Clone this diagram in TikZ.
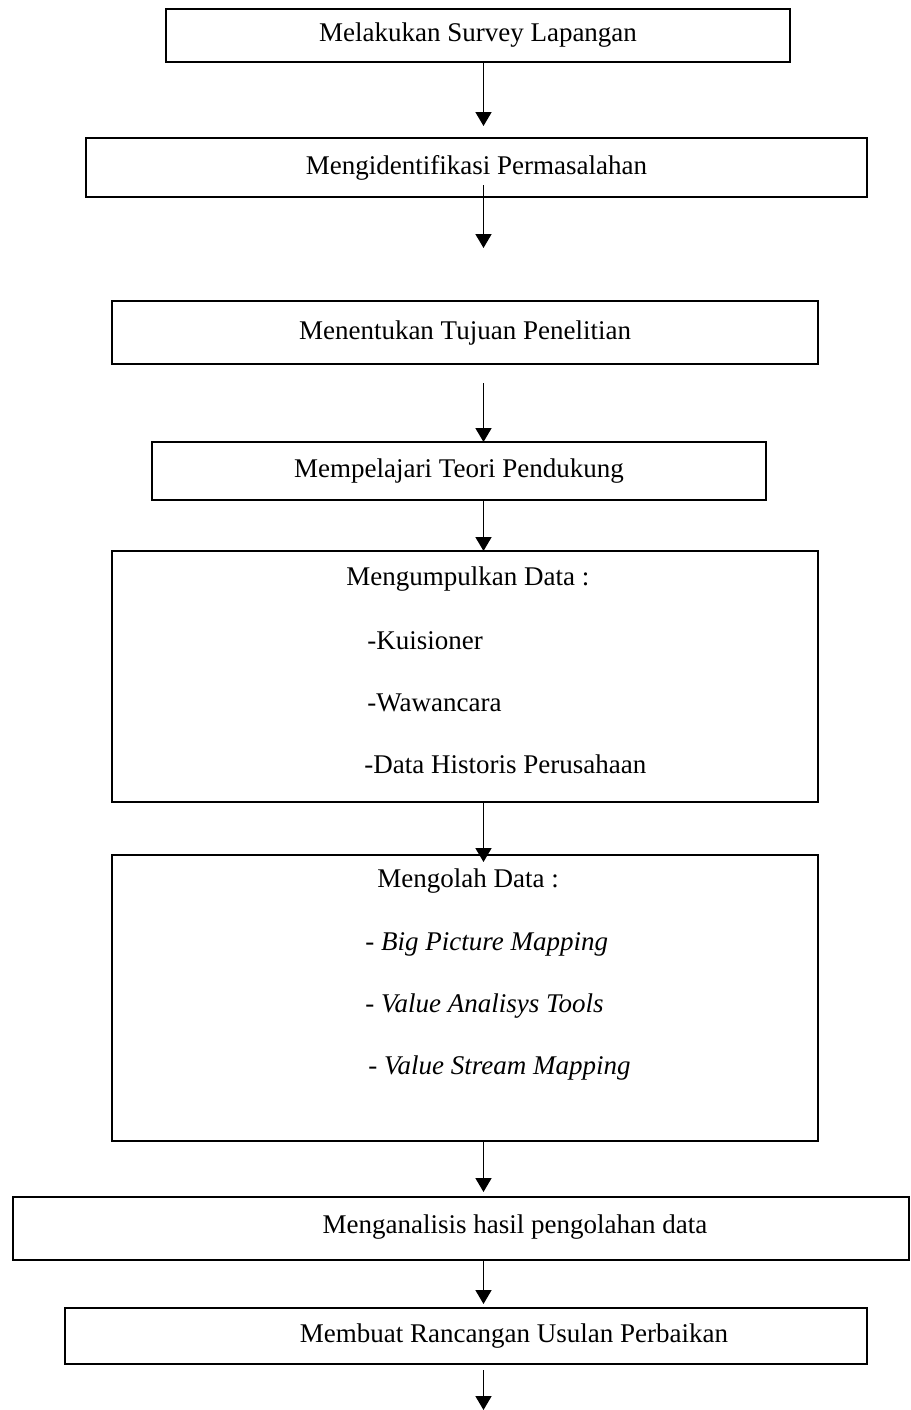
\documentclass[tikz,border=0pt]{standalone}
\usepackage{fontspec}
\setmainfont{Liberation Serif}
\usetikzlibrary{arrows.meta,calc}

\tikzset{
  kotak/.style={draw, line width=0.65pt, inner sep=0pt, outer sep=0pt, font=\fontsize{13.5}{16}\selectfont},
  teks/.style={inner sep=0pt, font=\fontsize{13.5}{16}\selectfont},
  panah/.style={-{Triangle[length=7pt,width=8pt]}, line width=0.85pt},
}

\begin{document}
\begin{tikzpicture}[x=0.5pt,y=-0.5pt]
  \useasboundingbox (0,0) rectangle (911,1410);
  % Spalte der Pfeile
  \coordinate (ax) at (483.5,0);

  % Kotak-kotak
  \node[kotak, minimum width=312pt, minimum height=26.5pt] (survey) at (478,35.5) {Melakukan Survey Lapangan};
  \node[kotak, minimum width=390.5pt, minimum height=29.5pt] (identifikasi) at (476.5,167.5) {Mengidentifikasi Permasalahan};
  \node[kotak, minimum width=353pt, minimum height=31.5pt] (tujuan) at (465,332.5) {Menentukan Tujuan Penelitian};
  \node[kotak, minimum width=307pt, minimum height=29pt] (teori) at (459,471) {Mempelajari Teori Pendukung};
  \node[kotak, minimum width=353pt, minimum height=125.5pt] (kumpul) at (465,676.5) {};
  \node[kotak, minimum width=353pt, minimum height=143pt] (olah) at (465,998) {};
  \node[kotak, minimum width=448pt, minimum height=31.5pt] (analisis) at (461,1228.5) {};
  \node[kotak, minimum width=401pt, minimum height=28pt] (usulan) at (466,1336) {};

  % Teks dalam kotak
  \node[teks, anchor=west] (kumpulJudul) at (346,579) {Mengumpulkan Data :};
  \node[teks, anchor=west] (kuisioner) at (367,641) {-Kuisioner};
  \node[teks, anchor=west] (wawancara) at (367,703) {-Wawancara};
  \node[teks, anchor=west] (historis) at (364,764) {-Data Historis Perusahaan};

  \node[teks, anchor=west] (olahJudul) at (377,881) {Mengolah Data :};
  \node[teks, anchor=west] (bpm) at (365,944) {- \textit{Big Picture Mapping}};
  \node[teks, anchor=west] (vat) at (365,1006) {- \textit{Value Analisys Tools}};
  \node[teks, anchor=west] (vsm) at (368,1068) {- \textit{Value Stream Mapping}};

  \node[teks] (analisisTeks) at (515,1227) {Menganalisis hasil pengolahan data};
  \node[teks] (usulanTeks) at (514,1336) {Membuat Rancangan Usulan Perbaikan};

  % Pfeile
  \coordinate (akhir) at (483.5,1410);
  \draw[panah] (survey.south -| ax) -- ($(identifikasi.north -| ax)+(0,-12)$);
  \draw[panah] ($(identifikasi.south -| ax)+(0,-12)$) -- ($(tujuan.north -| ax)+(0,-53)$);
  \draw[panah] ($(tujuan.south -| ax)+(0,19)$) -- (teori.north -| ax);
  \draw[panah] (teori.south -| ax) -- (kumpul.north -| ax);
  \draw[panah] (kumpul.south -| ax) -- ($(olah.north -| ax)+(0,7)$);
  \draw[panah] (olah.south -| ax) -- ($(analisis.north -| ax)+(0,-5)$);
  \draw[panah] (analisis.south -| ax) -- ($(usulan.north -| ax)+(0,-4)$);
  \draw[panah] ($(usulan.south -| ax)+(0,6)$) -- (akhir);
\end{tikzpicture}
\end{document}
